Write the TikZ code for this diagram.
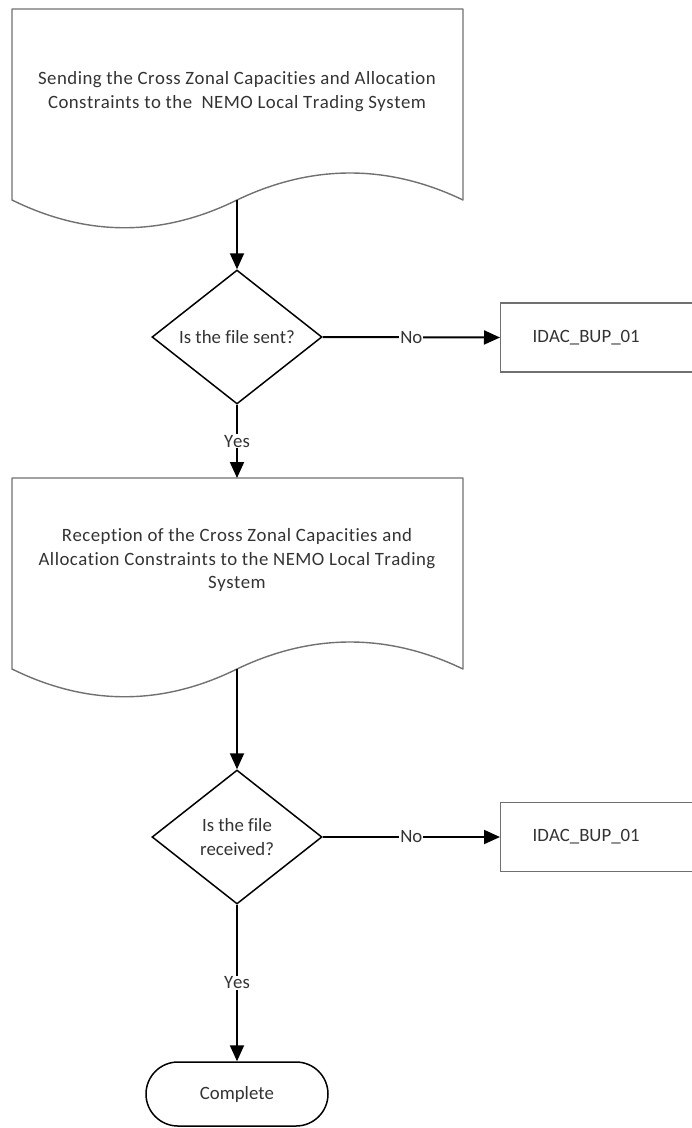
\documentclass[tikz,border=0pt]{standalone}
\usepackage{fontspec}
\setmainfont{Carlito}[Ligatures=NoCommon, Kerning=Off]
\newfontfamily\docfont{Carlito}[Ligatures=NoCommon, Kerning=Off, LetterSpace=2.5]
\usetikzlibrary{shapes.geometric,arrows.meta}
\definecolor{txt}{HTML}{333333}
\definecolor{outl}{HTML}{707070}
\begin{document}
\begin{tikzpicture}[x=1pt,y=-1pt,
  every node/.style={font=\fontsize{18.8pt}{23.5pt}\selectfont, text=txt},
  docline/.style={draw=outl, line width=1.4pt, line join=round},
  doctext/.style={align=center, inner sep=0pt, font=\docfont\fontsize{18.8pt}{23.5pt}\selectfont},
  decision/.style={draw=black, line width=1.5pt, shape=diamond, aspect=1.27, inner sep=0pt, minimum width=170pt, minimum height=134pt, align=center},
  bupbox/.style={draw=outl, line width=1.4pt, anchor=west, text width=168pt, align=left, inner xsep=32pt, inner ysep=0pt, minimum height=69pt},
  terminal/.style={draw=black, line width=1.5pt, rounded corners=32pt, minimum width=182pt, minimum height=64pt},
  conn/.style={draw=black, line width=2pt, -{Triangle[length=16pt,width=14pt]}},
  lbl/.style={fill=white, inner sep=1pt}
]
\useasboundingbox (0,0) rectangle (692,1128);

% Document 1
\draw[docline] (12,200) -- (12,9) -- (463,9) -- (463,200)
  .. controls (388,164) and (312,164) .. (237,200)
  .. controls (162,237) and (87,237) .. (12,200) -- cycle;
\coordinate (d1b) at (237,200);
\node[doctext] (d1) at (237,91.5) {Sending the Cross Zonal Capacities and Allocation\\Constraints to the~~NEMO Local Trading System};

% Decision 1
\node[decision] (q1) at (237,337) {Is the file sent?};
\node[bupbox] (b1) at (500,337.5) {IDAC\_BUP\_01};

% Document 2
\draw[docline] (12,669) -- (12,478) -- (463,478) -- (463,669)
  .. controls (388,633) and (312,633) .. (237,669)
  .. controls (162,706) and (87,706) .. (12,669) -- cycle;
\coordinate (d2t) at (237,478);
\coordinate (d2b) at (237,669);
\node[doctext] (d2) at (237,560) {Reception of the Cross Zonal Capacities and\\Allocation Constraints to the NEMO Local Trading\\System};

% Decision 2
\node[decision] (q2) at (237,837) {Is the file\\received?};
\node[bupbox] (b2) at (500,837) {IDAC\_BUP\_01};

% Terminal
\node[terminal] (end) at (237,1094) {Complete};

% Connectors
\draw[conn] (d1b) -- (q1.north);
\draw[conn] (q1.east) -- node[lbl] {No} (b1.west);
\draw[conn] (q1.south) -- node[lbl] {Yes} (d2t);
\draw[conn] (d2b) -- (q2.north);
\draw[conn] (q2.east) -- node[lbl] {No} (b2.west);
\draw[conn] (q2.south) -- node[lbl] {Yes} (end.north);
\end{tikzpicture}
\end{document}
